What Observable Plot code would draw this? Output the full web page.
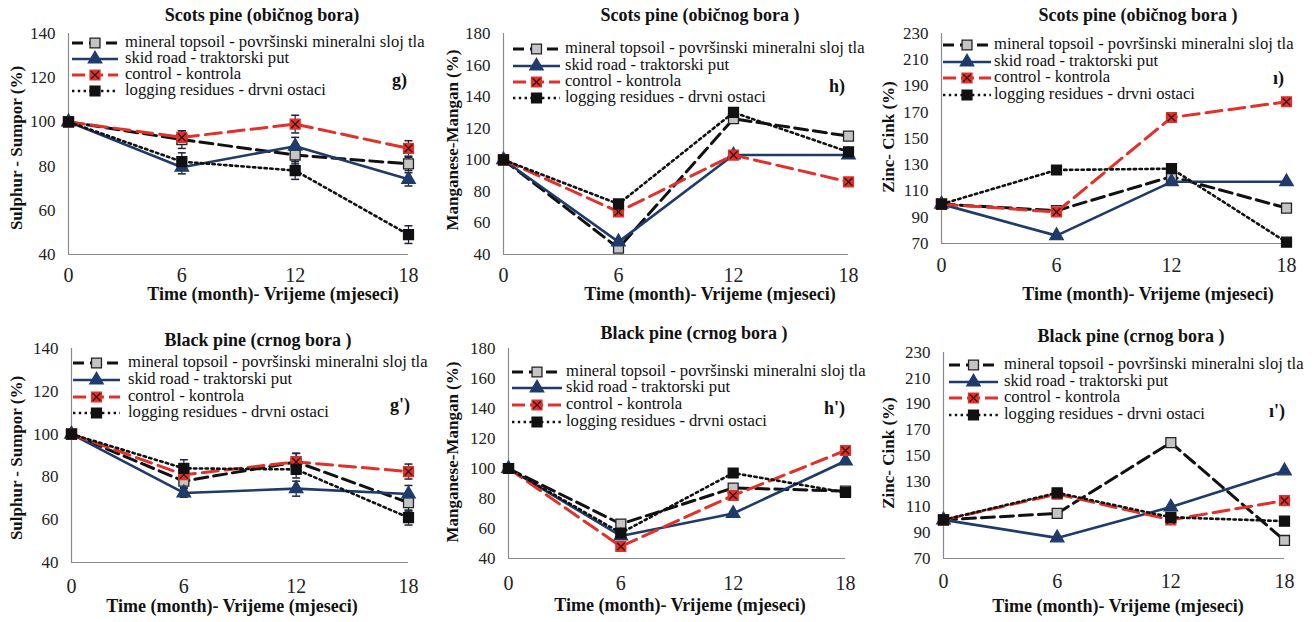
<!DOCTYPE html>
<html><head><meta charset="utf-8">
<script src="https://cdn.jsdelivr.net/npm/d3@7"></script>
<script src="https://cdn.jsdelivr.net/npm/@observablehq/plot@0.6"></script>
<style>
body{margin:0;background:#fff;overflow:hidden}
#wrap{position:relative;width:1316px;height:622px;background:#fff}
#wrap svg{position:absolute;left:0;top:0}
#wrap svg text{font-family:"Liberation Serif"}
</style></head><body><div id="wrap"></div>
<script>
// ---- data ----
const months = [0, 6, 12, 18];
const seriesNames = [
  "mineral topsoil - površinski mineralni sloj tla",
  "skid road - traktorski put",
  "control - kontrola",
  "logging residues - drvni ostaci"
];
// Sulphur, Scots pine (g)
const sulphurScotsMineral = [100, 92, 85, 81];
const sulphurScotsSkid    = [100, 79.5, 89, 74];
const sulphurScotsControl = [100, 93, 99, 88];
const sulphurScotsLogging = [100, 82, 78, 49];
const sulphurScotsErr = [[0,4,4,3],[0,3,4,3],[0,3,4,3.5],[0,4,4,4]];
// Manganese, Scots pine (h)
const manganScotsMineral = [100, 44, 126, 115];
const manganScotsSkid    = [100, 48, 103, 103];
const manganScotsControl = [100, 67, 103, 86];
const manganScotsLogging = [100, 72, 130, 105];
// Zinc, Scots pine (ı)
const zincScotsMineral = [100, 95, 121, 97];
const zincScotsSkid    = [100, 76, 117, 117];
const zincScotsControl = [100, 94, 166, 178];
const zincScotsLogging = [100, 126, 127, 71];
// Sulphur, Black pine (g')
const sulphurBlackMineral = [100, 78, 87, 68];
const sulphurBlackSkid    = [100, 72.5, 74.5, 72];
const sulphurBlackControl = [100, 81, 87, 82.5];
const sulphurBlackLogging = [100, 84, 83.5, 61];
const sulphurBlackErr = [[0,3,4,4],[0,2,3.5,4],[0,3,4,3.5],[0,4,4,3.5]];
// Manganese, Black pine (h')
const manganBlackMineral = [100, 63, 87, 85];
const manganBlackSkid    = [100, 55, 70, 105];
const manganBlackControl = [100, 48, 82, 112];
const manganBlackLogging = [100, 57, 97, 84];
// Zinc, Black pine (ı')
const zincBlackMineral = [100, 105, 160, 84];
const zincBlackSkid    = [100, 86, 110, 138];
const zincBlackControl = [100, 120, 100, 115];
const zincBlackLogging = [100, 121, 102, 99];

const ticks20 = [40, 60, 80, 100, 120, 140];
const ticksMn = [40, 60, 80, 100, 120, 140, 160, 180];
const ticksZn = [70, 90, 110, 130, 150, 170, 190, 210, 230];

// ---- styles ----
const FONT = "Liberation Serif";
const NAVY = "#1f3b6b", RED = "#e0322a", DARK = "#111";
const seriesStyle = [
  {stroke: DARK, width: 3, dash: "13,6", sym: "square", fill: "#c4c4c4", mstroke: "#222"},
  {stroke: NAVY, width: 2.6, dash: null, sym: "triangle", fill: NAVY, mstroke: NAVY},
  {stroke: RED, width: 3, dash: "16,7", sym: "square", fill: RED, mstroke: RED, cross: true},
  {stroke: DARK, width: 2.6, dash: "2.4,3.4", sym: "square", fill: DARK, mstroke: DARK}
];
const capSymbol = {draw(ctx, size) { const w = Math.sqrt(size); ctx.moveTo(-w / 2, 0); ctx.lineTo(w / 2, 0); }};

const panels = [
  {title: "Scots pine (običnog bora)", titleX: 262, titleY: 17, ylabel: "Sulphur - Sumpor (%)", ylx: 18, yly: 148,
   values: [sulphurScotsMineral, sulphurScotsSkid, sulphurScotsControl, sulphurScotsLogging], err: sulphurScotsErr,
   domain: [40, 140], ticks: ticks20, box: [68, 408, 33, 254], xpad: 13, xlx: 273, xly: 296,
   leg: {x0: 72, x1: 118, tx: 125, ys: [43, 59, 75, 91]}, tag: "g)", tagX: 407, tagY: 82},
  {title: "Scots pine (običnog bora )", titleX: 700, titleY: 17, ylabel: "Manganese-Mangan (%)", ylx: 454, yly: 140,
   values: [manganScotsMineral, manganScotsSkid, manganScotsControl, manganScotsLogging],
   domain: [40, 180], ticks: ticksMn, box: [503, 848, 33, 254], xpad: 13, xlx: 710, xly: 296,
   leg: {x0: 513, x1: 560, tx: 565, ys: [49, 66, 82, 98]}, tag: "h)", tagX: 845, tagY: 88},
  {title: "Scots pine (običnog bora )", titleX: 1138, titleY: 17, ylabel: "Zinc- Cink (%)", ylx: 890, yly: 137,
   values: [zincScotsMineral, zincScotsSkid, zincScotsControl, zincScotsLogging],
   domain: [70, 230], ticks: ticksZn, box: [941, 1286, 33, 243], xpad: 14, xlx: 1148, xly: 296,
   leg: {x0: 943, x1: 991, tx: 994, ys: [45, 62, 78, 95]}, tag: "ı)", tagX: 1284, tagY: 80},
  {title: "Black pine (crnog bora )", titleX: 258, titleY: 342, ylabel: "Sulphur - Sumpor (%)", ylx: 18, yly: 458,
   values: [sulphurBlackMineral, sulphurBlackSkid, sulphurBlackControl, sulphurBlackLogging], err: sulphurBlackErr,
   domain: [40, 140], ticks: ticks20, box: [71, 408, 348, 562], xpad: 16, xlx: 232, xly: 608,
   leg: {x0: 73, x1: 120, tx: 128, ys: [363, 380, 397, 413]}, tag: "g')", tagX: 410, tagY: 407},
  {title: "Black pine (crnog bora )", titleX: 694, titleY: 335, ylabel: "Manganese-Mangan (%)", ylx: 454, yly: 452,
   values: [manganBlackMineral, manganBlackSkid, manganBlackControl, manganBlackLogging],
   domain: [40, 180], ticks: ticksMn, box: [508, 845, 348, 558], xpad: 17, xlx: 680, xly: 607,
   leg: {x0: 512, x1: 562, tx: 566, ys: [372, 388, 405, 422]}, tag: "h')", tagX: 845, tagY: 410},
  {title: "Black pine (crnog bora )", titleX: 1131, titleY: 338, ylabel: "Zinc- Cink (%)", ylx: 890, yly: 453,
   values: [zincBlackMineral, zincBlackSkid, zincBlackControl, zincBlackLogging],
   domain: [70, 230], ticks: ticksZn, box: [943, 1284, 352, 558], xpad: 15, xlx: 1118, xly: 608,
   leg: {x0: 949, x1: 998, tx: 1004, ys: [365, 382, 398, 415]}, tag: "ı')", tagX: 1285, tagY: 413}
];

const W = 1316, H = 622;
const wrap = document.getElementById("wrap");

function drawPanel(p) {
  const [L, R, T, B] = p.box;
  const rows = [];
  p.values.forEach((vals, i) => months.forEach((m, j) => rows.push({s: i, x: m, y: vals[j], e: p.err ? p.err[i][j] : 0})));
  const marks = [
    Plot.ruleX([0], {stroke: "#8a8a8a", strokeWidth: 1.2}),
    Plot.ruleY([p.domain[0]], {stroke: "#8a8a8a", strokeWidth: 1.2})
  ];
  if (p.err) {
    const eb = rows.filter(d => d.e > 0);
    marks.push(Plot.ruleX(eb, {x: "x", y1: d => d.y - d.e, y2: d => d.y + d.e, stroke: "#1b2236", strokeWidth: 1.2}));
    marks.push(Plot.dot(eb, {x: "x", y: d => d.y + d.e, symbol: capSymbol, r: 4.5, stroke: "#1b2236", strokeWidth: 1.5}));
    marks.push(Plot.dot(eb, {x: "x", y: d => d.y - d.e, symbol: capSymbol, r: 4.5, stroke: "#1b2236", strokeWidth: 1.5}));
  }
  seriesStyle.forEach((st, i) => {
    const d = rows.filter(r => r.s === i);
    marks.push(Plot.line(d, {x: "x", y: "y", stroke: st.stroke, strokeWidth: st.width, strokeDasharray: st.dash || undefined, strokeLinejoin: "round"}));
    marks.push(Plot.dot(d, {x: "x", y: "y", symbol: st.sym, r: st.sym === "triangle" ? 5 : 5.6, fill: st.fill, stroke: st.mstroke, strokeWidth: 1.3}));
    if (st.cross) marks.push(Plot.dot(d, {x: "x", y: "y", symbol: "times", r: 3.6, stroke: "#3a1414", strokeWidth: 1.4}));
  });
  const svg = Plot.plot({
    width: W, height: H,
    marginLeft: L, marginRight: W - R, marginTop: T, marginBottom: H - B,
    style: {background: "transparent", fontFamily: FONT, fontSize: "17px", color: "#222", overflow: "visible"},
    x: {domain: [0, 18], ticks: months, tickSize: 0, tickPadding: p.xpad, label: null, tickFormat: d => String(d)},
    y: {domain: p.domain, ticks: p.ticks, tickSize: 0, tickPadding: 13, label: null, tickFormat: d => String(d)},
    marks
  });
  svg.setAttribute("font-family", FONT);
  const s = d3.select(svg);
  s.selectAll('g[aria-label^="x-axis"] text').style("font-size", "20px");
  s.selectAll('g[aria-label^="y-axis"] text').style("font-size", "17px");
  const txt = (x, y, str, size, weight, anchor) => s.append("text").attr("x", x).attr("y", y)
    .attr("text-anchor", anchor || "middle").attr("dominant-baseline", "middle")
    .style("font-family", FONT).style("font-size", size + "px").style("font-weight", weight || "normal").attr("fill", "#111").text(str);
  txt(p.titleX, p.titleY, p.title, 18, "bold");
  txt(p.xlx, p.xly, "Time (month)- Vrijeme (mjeseci)", 18, "bold");
  txt(0, 0, p.ylabel, 17, "bold").attr("transform", `translate(${p.ylx},${p.yly}) rotate(-90)`);
  txt(p.tagX, p.tagY, p.tag, 18, "bold", "end");
  // legend
  const lg = s.append("g");
  seriesStyle.forEach((st, i) => {
    const y = p.leg.ys[i], mid = (p.leg.x0 + p.leg.x1) / 2;
    lg.append("line").attr("x1", p.leg.x0).attr("x2", p.leg.x1).attr("y1", y).attr("y2", y)
      .attr("stroke", st.stroke).attr("stroke-width", st.width).attr("stroke-dasharray", st.dash ? (i === 0 ? "11,6" : i === 2 ? "13,5" : st.dash) : null);
    const sz = st.sym === "triangle" ? Math.PI * 25 : Math.PI * 5.6 * 5.6;
    const sym = d3.symbol(st.sym === "triangle" ? d3.symbolTriangle : d3.symbolSquare, sz);
    lg.append("path").attr("d", sym()).attr("transform", `translate(${mid},${y})`)
      .attr("fill", st.fill).attr("stroke", st.mstroke).attr("stroke-width", 1.3);
    if (st.cross) lg.append("path").attr("d", d3.symbol(d3.symbolTimes, Math.PI * 3.6 * 3.6)()).attr("transform", `translate(${mid},${y})`)
      .attr("stroke", "#3a1414").attr("stroke-width", 1.4).attr("fill", "none");
    txt(p.leg.tx, y, seriesNames[i], 16.6, "normal", "start");
  });
  wrap.appendChild(svg);
}
panels.forEach(drawPanel);
</script></body></html>
